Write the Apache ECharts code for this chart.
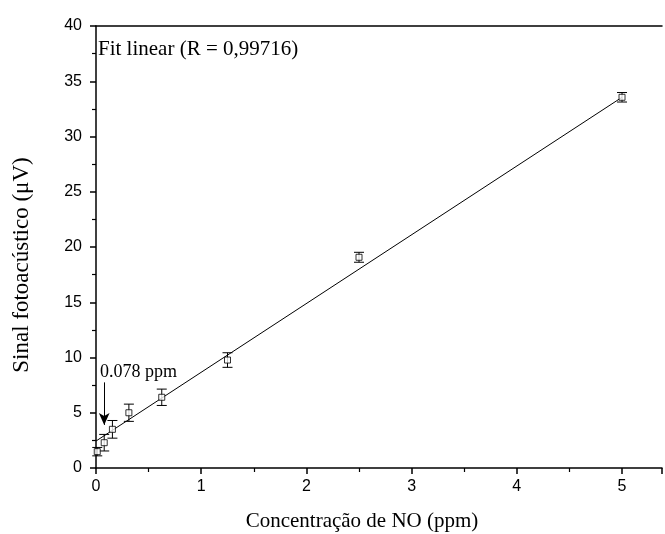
<!DOCTYPE html>
<html>
<head>
<meta charset="utf-8">
<script src="https://cdn.jsdelivr.net/npm/echarts@6/dist/echarts.min.js"></script>
<style>html,body{margin:0;padding:0;background:#fff}#c{width:665px;height:534px}</style>
</head>
<body>
<div id="c"></div>
<script>
const concentration = [0.012, 0.078, 0.156, 0.3125, 0.625, 1.25, 2.5, 5];
const signal = [1.48, 2.29, 3.50, 5.0, 6.4, 9.77, 19.07, 33.55];
const signalError = [0.38, 0.75, 0.8, 0.78, 0.74, 0.66, 0.45, 0.43];
const fitX = [0, 5];
const fitY = [2.44, 33.55];
const xTicks = [0, 1, 2, 3, 4, 5];
const yTicks = [0, 5, 10, 15, 20, 25, 30, 35, 40];
const arrowX = 0.078;
const arrowFrom = 7.75;
const arrowTo = 3.9;

const chart = echarts.init(document.getElementById('c'), null, {renderer: 'canvas'});
const pts = concentration.map((x, i) => [x, signal[i], signalError[i]]);
const fit = fitX.map((x, i) => [x, fitY[i]]);
const serif = '"Liberation Serif", "Times New Roman", serif';
const sans = '"Liberation Sans", Arial, sans-serif';
const xMax = 5.38;

chart.setOption({
  animation: false,
  backgroundColor: '#fff',
  grid: {left: 96, top: 26, width: 566, height: 442, containLabel: false},
  xAxis: [{
    type: 'value', min: 0, max: xMax, interval: 1,
    axisLine: {show: true, lineStyle: {color: '#000', width: 1.5}},
    axisTick: {show: true, inside: false, length: 6, lineStyle: {color: '#000', width: 1.5}},
    minorTick: {show: true, splitNumber: 2, length: 4, lineStyle: {color: '#000', width: 1.2}},
    splitLine: {show: false},
    axisLabel: {color: '#000', fontFamily: sans, fontSize: 16, margin: 11,
      formatter: v => xTicks.indexOf(v) >= 0 ? String(v) : ''}
  }, {
    type: 'value', min: 0, max: xMax, position: 'top',
    axisLine: {show: true, onZero: false, lineStyle: {color: '#000', width: 1.5}},
    axisTick: {show: false}, axisLabel: {show: false}, splitLine: {show: false}
  }],
  yAxis: {
    type: 'value', min: 0, max: 40, interval: 5,
    axisLine: {show: true, lineStyle: {color: '#000', width: 1.5}},
    axisTick: {show: true, inside: false, length: 6, lineStyle: {color: '#000', width: 1.5}},
    minorTick: {show: true, splitNumber: 2, length: 4, lineStyle: {color: '#000', width: 1.2}},
    splitLine: {show: false},
    axisLabel: {color: '#000', fontFamily: sans, fontSize: 16, margin: 14,
      formatter: v => yTicks.indexOf(v) >= 0 ? String(v) : ''}
  },
  series: [{
    type: 'line', data: fit, showSymbol: false, symbol: 'none',
    lineStyle: {color: '#000', width: 1}, z: 2,
    markLine: {
      silent: true, symbol: ['none', 'arrow'], symbolSize: [8, 12],
      lineStyle: {color: '#000', width: 1, type: 'solid'},
      label: {show: false},
      data: [[{coord: [arrowX, arrowFrom]}, {coord: [arrowX, arrowTo]}]]
    }
  }, {
    type: 'custom', data: pts, z: 3,
    renderItem: function (params, api) {
      const x = api.value(0), y = api.value(1), e = api.value(2);
      const top = api.coord([x, y + e]);
      const bot = api.coord([x, y - e]);
      const hw = 5;
      const st = {stroke: '#000', lineWidth: 1};
      return {type: 'group', children: [
        {type: 'line', shape: {x1: top[0], y1: top[1], x2: bot[0], y2: bot[1]}, style: st},
        {type: 'line', shape: {x1: top[0] - hw, y1: top[1], x2: top[0] + hw, y2: top[1]}, style: st},
        {type: 'line', shape: {x1: bot[0] - hw, y1: bot[1], x2: bot[0] + hw, y2: bot[1]}, style: st}
      ]};
    }
  }, {
    type: 'scatter', data: pts.map(p => [p[0], p[1]]), symbol: 'rect', symbolSize: 6, z: 4,
    itemStyle: {color: '#fff', borderColor: '#000', borderWidth: 1}
  }],
  graphic: [
    {type: 'text', x: 98, y: 49, style: {text: 'Fit linear (R = 0,99716)', fill: '#000', font: '21px ' + serif, textVerticalAlign: 'middle'}},
    {type: 'text', x: 100, y: 372, style: {text: '0.078 ppm', fill: '#000', font: '18px ' + serif, textVerticalAlign: 'middle'}},
    {type: 'text', x: 362, y: 521, style: {text: 'Concentração de NO (ppm)', fill: '#000', font: '21px ' + serif, textAlign: 'center', textVerticalAlign: 'middle'}},
    {type: 'text', x: 22, y: 265, rotation: Math.PI / 2, style: {text: 'Sinal fotoacústico (μV)', fill: '#000', font: '23px ' + serif, textAlign: 'center', textVerticalAlign: 'middle'}}
  ]
});
</script>
</body>
</html>
